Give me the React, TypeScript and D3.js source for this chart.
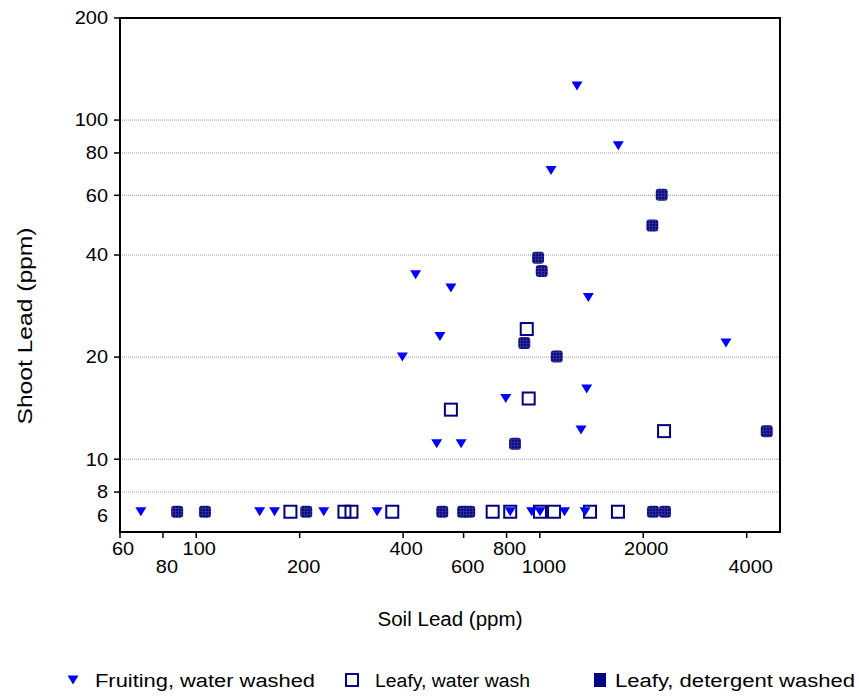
import React from "react";
import * as d3 from "d3";

// ---- data ----
const fruitX = [1283, 1692, 1078, 435, 551, 1384, 512, 398, 3481, 1369, 796, 1318, 501, 590, 69, 153, 169, 235, 336, 820, 947, 1001, 1180, 1354];
const fruitY = [126, 84, 71, 35, 32, 30, 23, 20, 22, 16.1, 15.1, 12.2, 11.1, 11.1, 7, 7, 7, 7, 7, 7, 7, 7, 7, 7];

const leafyX = [916, 928, 551, 2299, 188, 270, 283, 372, 729, 820, 1001, 1100, 1400, 1688];
const leafyY = [24.2, 15.1, 14.0, 12.1, 7, 7, 7, 7, 7, 7, 7, 7, 7, 7];

const detX = [988, 1013, 2263, 2125, 901, 1120, 847, 4575, 88, 106, 209, 520, 598, 623, 2135, 2314];
const detY = [39.3, 35.9, 60.2, 48.9, 22, 20.1, 11.1, 12.1, 7, 7, 7, 7, 7, 7, 7, 7];

const xTicksRow1 = [60, 100, 400, 800, 2000];
const xTicksRow2 = [80, 200, 600, 1000, 4000];
const yTicks = [6, 8, 10, 20, 40, 60, 80, 100, 200];
const yGrid = [8, 10, 20, 40, 60, 80, 100];

const legendLabels = ["Fruiting, water washed", "Leafy, water wash", "Leafy, detergent washed"];

const W = 859, H = 696;
const L = 120, R = 780, T = 18, B = 532;
const FONT = "Liberation Sans, Arial, sans-serif";
const SX = 1.14;

const tri = "M-5.5,-4.5L5.5,-4.5L0,4.5Z";

export default function App() {
  const x = d3.scaleLog().domain([60, 5000]).range([L, R]);
  const y = d3.scaleLog().domain([6.1, 200]).range([B, T]);

  const openSq = (cx: number, cy: number, k: string) => (
    <rect key={k} x={cx - 6} y={cy - 6} width={12} height={12} fill="none" stroke="#000080" strokeWidth={2} />
  );
  const fillSq = (cx: number, cy: number, k: string) => (
    <rect key={k} x={cx - 6} y={cy - 6} width={12} height={12} rx={3} fill="url(#hatch)" />
  );
  const triM = (cx: number, cy: number, k: string) => (
    <path key={k} d={tri} transform={`translate(${cx},${cy})`} fill="#0000FF" />
  );

  return (
    <svg width={W} height={H} style={{ position: "absolute", left: 0, top: 0, background: "#fff" }} fontFamily={FONT}>
      <defs>
        <pattern id="hatch" width={3} height={3} patternUnits="userSpaceOnUse">
          <rect width={3} height={3} fill="#0c0c80" />
          <rect x={1.4} width={0.6} height={3} fill="#3a3aa0" />
          <rect y={1.4} width={3} height={0.6} fill="#3a3aa0" />
        </pattern>
      </defs>
      <rect width={W} height={H} fill="#fff" />
      {/* grid */}
      {yGrid.map((v) => (
        <line key={"g" + v} x1={L} x2={R} y1={y(v)} y2={y(v)} stroke="#9a9a9a" strokeWidth={1} strokeDasharray="1,1" />
      ))}
      {/* frame */}
      <rect x={L} y={T} width={R - L} height={B - T} fill="none" stroke="#000" strokeWidth={2} />
      {/* y ticks */}
      {yTicks.map((v) => (
        <g key={"yt" + v}>
          {v >= 8 && <line x1={L - 6} x2={L} y1={y(v)} y2={y(v)} stroke="#000" strokeWidth={1.5} />}
          <text transform={`translate(108,${Math.min(y(v), B - 16)}) scale(${SX},1)`} dy="0.36em" textAnchor="end" fontSize={17.5}>{v}</text>
        </g>
      ))}
      {/* x ticks */}
      {[...xTicksRow1, ...xTicksRow2].map((v) => (
        <line key={"xt" + v} x1={x(v)} x2={x(v)} y1={B} y2={B + 6} stroke="#000" strokeWidth={1.5} />
      ))}
      {xTicksRow1.map((v) => (
        <text key={"xl1" + v} transform={`translate(${x(v) + 3},555) scale(${SX},1)`} textAnchor="middle" fontSize={17.5}>{v}</text>
      ))}
      {xTicksRow2.map((v) => (
        <text key={"xl2" + v} transform={`translate(${x(v) + 4},573) scale(${SX},1)`} textAnchor="middle" fontSize={17.5}>{v}</text>
      ))}
      {/* axis titles */}
      <text x={450} y={626} textAnchor="middle" fontSize={20} textLength={145} lengthAdjust="spacingAndGlyphs">Soil Lead (ppm)</text>
      <text transform="translate(32,326) rotate(-90)" textAnchor="middle" fontSize={20} textLength={197} lengthAdjust="spacingAndGlyphs">Shoot Lead (ppm)</text>
      {/* marks */}
      {detX.map((v, i) => fillSq(x(v), y(detY[i]), "d" + i))}
      {leafyX.map((v, i) => openSq(x(v), y(leafyY[i]), "l" + i))}
      {fruitX.map((v, i) => triM(x(v), y(fruitY[i]), "f" + i))}
      {/* legend */}
      <g>
        {triM(73, 680, "lg0")}
        <text x={95} y={687} fontSize={18} textLength={220} lengthAdjust="spacingAndGlyphs">{legendLabels[0]}</text>
        {openSq(352, 680, "lg1")}
        <text x={375} y={687} fontSize={18} textLength={155} lengthAdjust="spacingAndGlyphs">{legendLabels[1]}</text>
        <rect x={594} y={673} width={12} height={14} fill="#000080" />
        <text x={615} y={687} fontSize={18} textLength={240} lengthAdjust="spacingAndGlyphs">{legendLabels[2]}</text>
      </g>
    </svg>
  );
}
